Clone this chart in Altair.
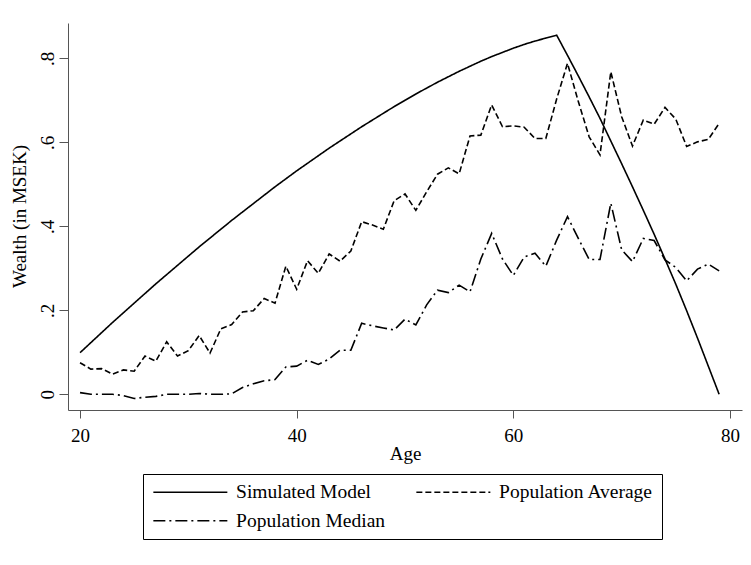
import altair as alt
import pandas as pd

ages = list(range(20, 80))

simulated_model = [
    0.099, 0.123, 0.147, 0.171, 0.194, 0.217, 0.240, 0.263, 0.285, 0.307,
    0.329, 0.351, 0.372, 0.393, 0.414, 0.434, 0.454, 0.474, 0.494, 0.513,
    0.532, 0.550, 0.568, 0.586, 0.603, 0.620, 0.637, 0.653, 0.669, 0.685,
    0.700, 0.715, 0.729, 0.743, 0.756, 0.769, 0.781, 0.793, 0.804, 0.814,
    0.824, 0.833, 0.841, 0.848, 0.855, 0.807, 0.758, 0.708, 0.657, 0.603,
    0.549, 0.494, 0.438, 0.381, 0.322, 0.262, 0.199, 0.134, 0.067, 0.000,
]

population_average = [
    0.075, 0.060, 0.061, 0.048, 0.058, 0.055, 0.091, 0.079, 0.125, 0.091,
    0.104, 0.140, 0.098, 0.156, 0.166, 0.196, 0.199, 0.228, 0.217, 0.305,
    0.250, 0.318, 0.288, 0.334, 0.317, 0.341, 0.411, 0.403, 0.393, 0.461,
    0.477, 0.438, 0.482, 0.524, 0.539, 0.525, 0.615, 0.617, 0.689, 0.637,
    0.639, 0.636, 0.609, 0.609, 0.703, 0.788, 0.697, 0.613, 0.570, 0.768,
    0.661, 0.591, 0.653, 0.643, 0.683, 0.655, 0.590, 0.601, 0.607, 0.645,
]

population_median = [
    0.004, 0.000, 0.000, 0.000, -0.003, -0.010, -0.007, -0.005, 0.000, 0.000,
    0.000, 0.002, 0.000, 0.000, 0.001, 0.016, 0.025, 0.032, 0.035, 0.065,
    0.067, 0.081, 0.071, 0.084, 0.105, 0.105, 0.169, 0.163, 0.158, 0.153,
    0.179, 0.165, 0.213, 0.248, 0.242, 0.260, 0.244, 0.322, 0.383, 0.322,
    0.283, 0.327, 0.336, 0.305, 0.367, 0.423, 0.371, 0.321, 0.321, 0.455,
    0.344, 0.316, 0.371, 0.366, 0.320, 0.302, 0.270, 0.298, 0.310, 0.294,
]

series_names = ["Simulated Model", "Population Average", "Population Median"]
x_ticks = [20, 40, 60, 80]
y_ticks = [0, 0.2, 0.4, 0.6, 0.8]

rows = []
for name, vals in zip(series_names, [simulated_model, population_average, population_median]):
    for a, v in zip(ages, vals):
        rows.append({"Age": a, "Wealth": v, "Series": name})
df = pd.DataFrame(rows)

FONT = "Liberation Serif"

chart = alt.Chart(df).mark_line(strokeWidth=1.6, color="black").encode(
    x=alt.X(
        "Age:Q",
        scale=alt.Scale(domain=[18.89, 81.11], nice=False, zero=False),
        axis=alt.Axis(
            values=x_ticks, title="Age", grid=False, tickSize=8,
            labelPadding=23, labelBaseline="alphabetic", labelFontSize=19,
            titleFontSize=19, titleY=49, titleBaseline="alphabetic",
            labelFont=FONT, titleFont=FONT, titleFontWeight="normal",
            domainColor="#555555", tickColor="#555555", labelColor="black",
            titleColor="black",
        ),
    ),
    y=alt.Y(
        "Wealth:Q",
        scale=alt.Scale(domain=[-0.0374, 0.884], nice=False, zero=False),
        axis=alt.Axis(
            values=y_ticks, title="Wealth (in MSEK)", grid=False, tickSize=9,
            labelExpr="datum.value == 0 ? '0' : replace(format(datum.value, '.1f'), '0.', '.')",
            labelAngle=270, labelAlign="center", labelBaseline="alphabetic",
            labelPadding=6, labelFontSize=19, titleFontSize=19,
            titleX=-43, titleY=193, titleAngle=270, titleAlign="center",
            titleBaseline="alphabetic",
            labelFont=FONT, titleFont=FONT, titleFontWeight="normal",
            domainColor="#555555", tickColor="#555555", labelColor="black",
            titleColor="black",
        ),
    ),
    strokeDash=alt.StrokeDash(
        "Series:N",
        sort=series_names,
        scale=alt.Scale(domain=series_names, range=[[1, 0], [6, 3], [12, 4, 2, 4]]),
        legend=alt.Legend(
            orient="none", legendX=75, legendY=451, columns=2, title=None,
            direction="horizontal",
            symbolType="M-5,0H5", symbolSize=219, symbolStrokeWidth=1.5,
            symbolOffset=29.6,
            symbolStrokeColor="black", labelFont=FONT, labelFontSize=19.5,
            labelColor="black", labelOffset=36, columnPadding=27, rowPadding=8,
            padding=8, strokeColor="black", fillColor="white", labelLimit=400,
        ),
    ),
).properties(
    width=674,
    height=387,
    autosize=alt.AutoSizeParams(type="none"),
    padding={"left": 68, "top": 23, "right": 9, "bottom": 155},
    background="white",
).configure(font=FONT).configure_view(stroke=None)

chart.save("out.html", embed_options={"renderer": "svg", "actions": False})
